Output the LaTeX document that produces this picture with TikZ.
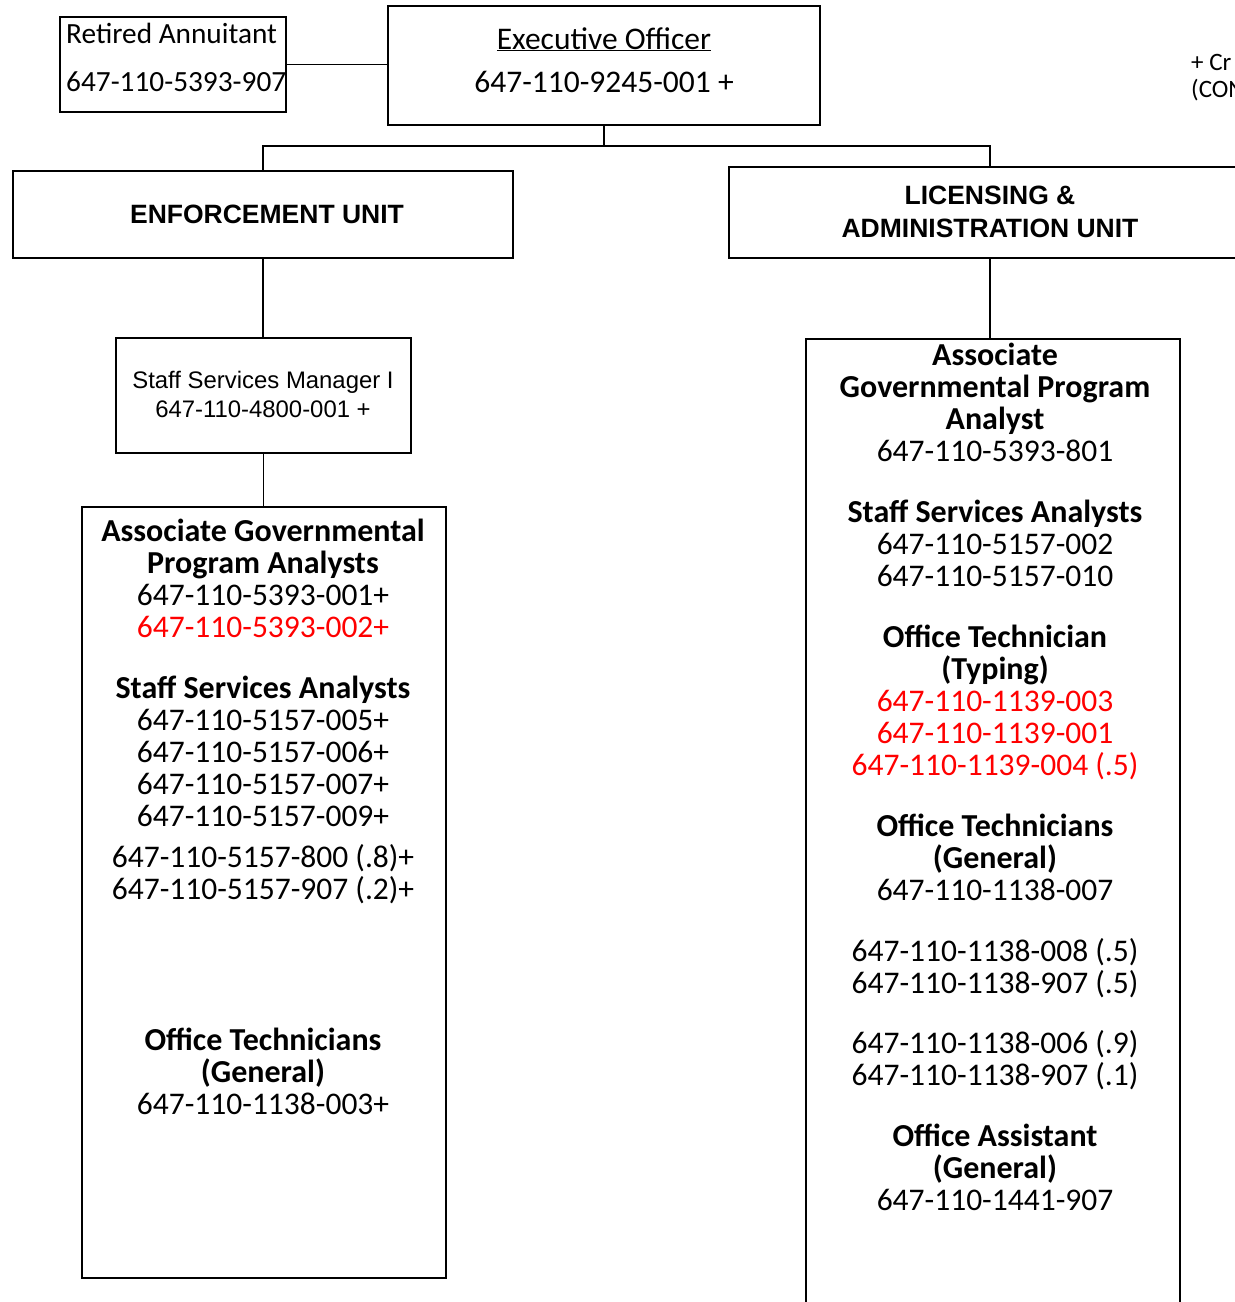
\documentclass[tikz,border=0pt]{standalone}
\usepackage{fontspec}
\setmainfont{Carlito}
\newfontfamily\arialfont{Liberation Sans}
\begin{document}
\begin{tikzpicture}[x=1pt,y=-1pt,
  box/.style={draw, line width=1.6pt, rectangle, inner sep=0pt},
  conn/.style={line width=1.6pt},
  txt/.style={inner sep=0pt, anchor=base, font=\fontsize{31.5}{32}\selectfont},
  btxt/.style={txt, font=\fontsize{32}{32}\selectfont\bfseries},
  rtxt/.style={txt, text=red},
  unit/.style={inner sep=0pt, anchor=base, font=\arialfont\bfseries\fontsize{26.5}{32}\selectfont},
  ssmtxt/.style={inner sep=0pt, anchor=base, font=\arialfont\fontsize{23.9}{29}\selectfont},
  small/.style={inner sep=0pt, anchor=base west, font=\fontsize{25}{27}\selectfont}]
\useasboundingbox (0,0) rectangle (1235,1302);
% boxes
\node[box, minimum width=226pt, minimum height=95pt] (ret) at (173,64.5) {};
\node[box, minimum width=432pt, minimum height=119pt] (exec) at (604,65.5) {};
\node[box, minimum width=500pt, minimum height=87pt] (enf) at (263,214.5) {};
\node[box, minimum width=522pt, minimum height=91pt] (lic) at (990,212.5) {};
\node[box, minimum width=295pt, minimum height=115pt] (ssm) at (263.5,395.5) {};
\node[box, minimum width=364pt, minimum height=771pt] (lbox) at (264,892.5) {};
\node[box, minimum width=374pt, minimum height=991pt] (rbox) at (993,834.5) {};
% connectors
\coordinate (bus) at ([yshift=-20pt]exec.south);
\draw[conn] (ret.east) -- (ret.east -| exec.west);
\draw[conn] (exec.south) -- (bus);
\draw[conn] (bus) -| (enf.north);
\draw[conn] (bus) -| (lic.north);
\draw[conn] (enf.south) -- (enf.south |- ssm.north);
\draw[conn] (ssm.south) -- (ssm.south |- lbox.north);
\draw[conn] (lic.south) -- (lic.south |- rbox.north);
% top texts
\node[txt, anchor=base west, font=\fontsize{29.3}{32}\selectfont] (ret1) at (66,43) {Retired Annuitant};
\node[txt, anchor=base west, font=\fontsize{29.3}{32}\selectfont] (ret2) at (66,91) {647-110-5393-907};
\node[txt] (ex1) at (604,49) {\underline{Executive Officer}};
\node[txt] (ex2) at (604,92) {647-110-9245-001 +};
\node[small] (cr1) at (1191,70) {+ Cr};
\node[small] (cr2) at (1191,97) {(CON};
\node[unit] (enft) at (267,223.5) {ENFORCEMENT UNIT};
\node[unit] (lict1) at (990,204.5) {LICENSING \&};
\node[unit] (lict2) at (990,237.5) {ADMINISTRATION UNIT};
\node[ssmtxt] (ssm1) at (263,388.5) {Staff Services Manager I};
\node[ssmtxt] (ssm2) at (263,417.5) {647-110-4800-001 +};
% left box content
\foreach \y/\t [count=\i] in {531/Associate Governmental, 563/Program Analysts, 688/Staff Services Analysts, 1040/Office Technicians, 1072/(General)}
  \node[btxt] (lb\i) at (263,\y+10) {\t};
\foreach \y/\t [count=\i] in {595/647-110-5393-001+, 720/647-110-5157-005+, 752/647-110-5157-006+, 784/647-110-5157-007+, 816/647-110-5157-009+, 857/647-110-5157-800 (.8)+, 889/647-110-5157-907 (.2)+, 1104/647-110-1138-003+}
  \node[txt] (ln\i) at (263,\y+10) {\t};
\node[rtxt] (lr1) at (263,637) {647-110-5393-002+};
% right box content
\foreach \y/\t [count=\i] in {355/Associate, 387/Governmental Program, 419/Analyst, 512/Staff Services Analysts, 637/Office Technician, 669/(Typing), 826/Office Technicians, 858/(General), 1136/Office Assistant, 1168/(General)}
  \node[btxt] (rb\i) at (995,\y+10) {\t};
\foreach \y/\t [count=\i] in {451/647-110-5393-801, 544/647-110-5157-002, 576/647-110-5157-010, 890/647-110-1138-007, 951/647-110-1138-008 (.5), 983/647-110-1138-907 (.5), 1043/647-110-1138-006 (.9), 1075/647-110-1138-907 (.1), 1200/647-110-1441-907}
  \node[txt] (rn\i) at (995,\y+10) {\t};
\foreach \y/\t [count=\i] in {701/647-110-1139-003, 733/647-110-1139-001, 765/647-110-1139-004 (.5)}
  \node[rtxt] (rr\i) at (995,\y+10) {\t};
\end{tikzpicture}
\end{document}
